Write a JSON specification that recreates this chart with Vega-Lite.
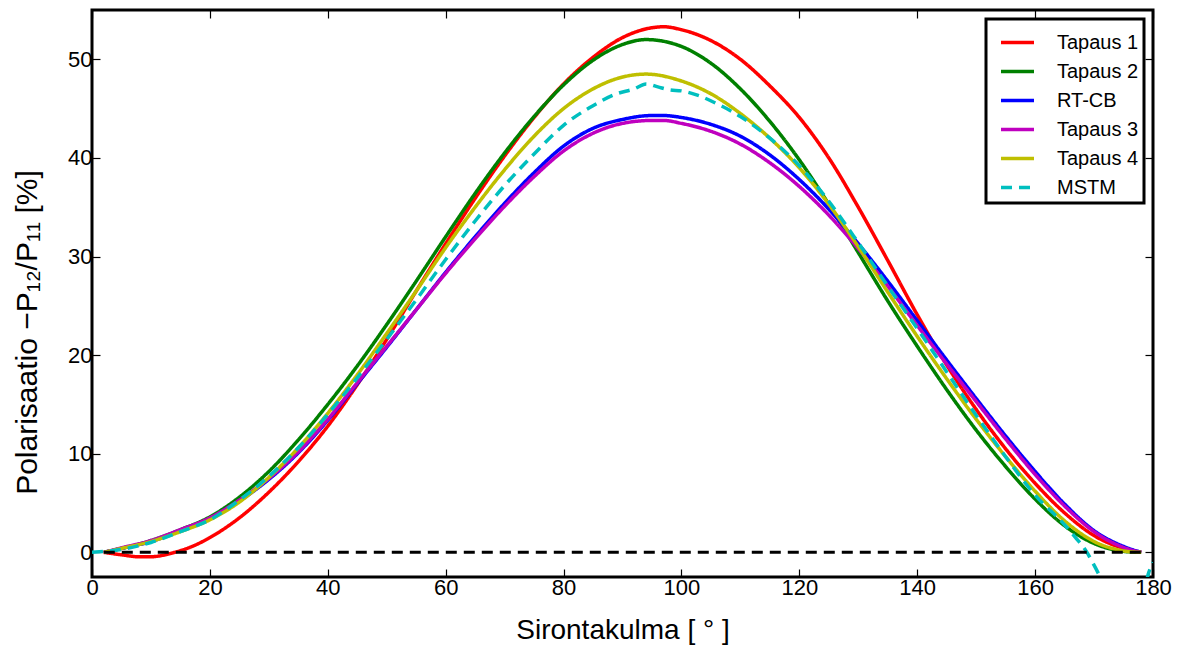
{
  "$schema": "https://vega.github.io/schema/vega-lite/v6.json",
  "width": 1061,
  "height": 567,
  "autosize": "none",
  "padding": {"left": 92, "top": 10, "right": 32, "bottom": 74},
  "background": "white",
  "config": {
    "font": "Liberation Sans",
    "view": {"stroke": "black", "strokeWidth": 3},
    "axis": {
      "grid": false,
      "domain": false,
      "tickSize": -8,
      "tickWidth": 1.2,
      "tickColor": "black",
      "labelFlush": false,
      "labelFont": "Liberation Sans",
      "labelFontSize": 22,
      "labelColor": "black",
      "titleFont": "Liberation Sans",
      "titleFontSize": 28,
      "titleFontWeight": "normal",
      "titleColor": "black"
    },
    "legend": {
      "strokeColor": "black",
      "strokeWidth": 3,
      "fillColor": "white",
      "padding": 5,
      "offset": 9,
      "labelFont": "Liberation Sans",
      "labelFontSize": 20,
      "labelColor": "black",
      "symbolType": "stroke",
      "symbolStrokeWidth": 3.5,
      "symbolSize": 1089,
      "symbolOffset": 8,
      "labelOffset": 21,
      "rowPadding": -2,
      "orient": "top-right"
    }
  },
  "datasets": {
    "curves": [
      {"s":"Tapaus 1","x":2,"y":0},{"s":"Tapaus 1","x":5,"y":-0.25},{"s":"Tapaus 1","x":8,"y":-0.45},{"s":"Tapaus 1","x":10,"y":-0.45},{"s":"Tapaus 1","x":12,"y":-0.3},{"s":"Tapaus 1","x":14,"y":0},{"s":"Tapaus 1","x":17,"y":0.6},{"s":"Tapaus 1","x":20,"y":1.5},{"s":"Tapaus 1","x":25,"y":3.5},{"s":"Tapaus 1","x":30,"y":6.1},{"s":"Tapaus 1","x":35,"y":9.2},{"s":"Tapaus 1","x":40,"y":12.8},{"s":"Tapaus 1","x":45,"y":17.0},{"s":"Tapaus 1","x":50,"y":21.6},{"s":"Tapaus 1","x":55,"y":26.5},{"s":"Tapaus 1","x":60,"y":31.3},{"s":"Tapaus 1","x":65,"y":35.9},{"s":"Tapaus 1","x":70,"y":40.2},{"s":"Tapaus 1","x":75,"y":44.1},{"s":"Tapaus 1","x":80,"y":47.5},{"s":"Tapaus 1","x":85,"y":50.2},{"s":"Tapaus 1","x":90,"y":52.2},{"s":"Tapaus 1","x":95,"y":53.2},{"s":"Tapaus 1","x":97,"y":53.3},{"s":"Tapaus 1","x":100,"y":53.0},{"s":"Tapaus 1","x":105,"y":51.9},{"s":"Tapaus 1","x":110,"y":50.0},{"s":"Tapaus 1","x":115,"y":47.3},{"s":"Tapaus 1","x":120,"y":44.1},{"s":"Tapaus 1","x":125,"y":40.0},{"s":"Tapaus 1","x":130,"y":35.0},{"s":"Tapaus 1","x":135,"y":29.6},{"s":"Tapaus 1","x":140,"y":24.1},{"s":"Tapaus 1","x":145,"y":19.0},{"s":"Tapaus 1","x":150,"y":14.5},{"s":"Tapaus 1","x":155,"y":10.5},{"s":"Tapaus 1","x":160,"y":7.0},{"s":"Tapaus 1","x":165,"y":4.0},{"s":"Tapaus 1","x":170,"y":1.7},{"s":"Tapaus 1","x":175,"y":0.4},{"s":"Tapaus 1","x":178,"y":0},

      {"s":"Tapaus 2","x":2,"y":0},{"s":"Tapaus 2","x":5,"y":0.4},{"s":"Tapaus 2","x":10,"y":1.2},{"s":"Tapaus 2","x":15,"y":2.3},{"s":"Tapaus 2","x":20,"y":3.6},{"s":"Tapaus 2","x":25,"y":5.6},{"s":"Tapaus 2","x":30,"y":8.2},{"s":"Tapaus 2","x":35,"y":11.4},{"s":"Tapaus 2","x":40,"y":15.0},{"s":"Tapaus 2","x":45,"y":18.9},{"s":"Tapaus 2","x":50,"y":23.1},{"s":"Tapaus 2","x":55,"y":27.5},{"s":"Tapaus 2","x":60,"y":32.0},{"s":"Tapaus 2","x":65,"y":36.4},{"s":"Tapaus 2","x":70,"y":40.5},{"s":"Tapaus 2","x":75,"y":44.2},{"s":"Tapaus 2","x":80,"y":47.4},{"s":"Tapaus 2","x":85,"y":49.9},{"s":"Tapaus 2","x":90,"y":51.5},{"s":"Tapaus 2","x":94,"y":52.0},{"s":"Tapaus 2","x":100,"y":51.3},{"s":"Tapaus 2","x":105,"y":49.6},{"s":"Tapaus 2","x":110,"y":47.0},{"s":"Tapaus 2","x":115,"y":43.7},{"s":"Tapaus 2","x":120,"y":39.8},{"s":"Tapaus 2","x":125,"y":35.3},{"s":"Tapaus 2","x":130,"y":30.4},{"s":"Tapaus 2","x":135,"y":25.5},{"s":"Tapaus 2","x":140,"y":20.9},{"s":"Tapaus 2","x":145,"y":16.5},{"s":"Tapaus 2","x":150,"y":12.4},{"s":"Tapaus 2","x":155,"y":8.7},{"s":"Tapaus 2","x":160,"y":5.4},{"s":"Tapaus 2","x":165,"y":2.7},{"s":"Tapaus 2","x":170,"y":0.9},{"s":"Tapaus 2","x":175,"y":0.1},{"s":"Tapaus 2","x":178,"y":0},

      {"s":"RT-CB","x":2,"y":0},{"s":"RT-CB","x":5,"y":0.4},{"s":"RT-CB","x":10,"y":1.1},{"s":"RT-CB","x":15,"y":2.2},{"s":"RT-CB","x":20,"y":3.4},{"s":"RT-CB","x":25,"y":5.2},{"s":"RT-CB","x":30,"y":7.4},{"s":"RT-CB","x":35,"y":10.1},{"s":"RT-CB","x":40,"y":13.4},{"s":"RT-CB","x":45,"y":17.1},{"s":"RT-CB","x":50,"y":20.8},{"s":"RT-CB","x":55,"y":24.6},{"s":"RT-CB","x":60,"y":28.4},{"s":"RT-CB","x":65,"y":32.0},{"s":"RT-CB","x":70,"y":35.4},{"s":"RT-CB","x":75,"y":38.5},{"s":"RT-CB","x":80,"y":41.2},{"s":"RT-CB","x":85,"y":43.0},{"s":"RT-CB","x":90,"y":43.9},{"s":"RT-CB","x":95,"y":44.3},{"s":"RT-CB","x":97,"y":44.3},{"s":"RT-CB","x":100,"y":44.1},{"s":"RT-CB","x":105,"y":43.4},{"s":"RT-CB","x":110,"y":42.2},{"s":"RT-CB","x":115,"y":40.3},{"s":"RT-CB","x":120,"y":37.8},{"s":"RT-CB","x":125,"y":34.8},{"s":"RT-CB","x":130,"y":31.3},{"s":"RT-CB","x":135,"y":27.5},{"s":"RT-CB","x":140,"y":23.5},{"s":"RT-CB","x":145,"y":19.5},{"s":"RT-CB","x":150,"y":15.6},{"s":"RT-CB","x":155,"y":11.8},{"s":"RT-CB","x":160,"y":8.2},{"s":"RT-CB","x":165,"y":4.9},{"s":"RT-CB","x":170,"y":2.2},{"s":"RT-CB","x":175,"y":0.6},{"s":"RT-CB","x":178,"y":0},

      {"s":"Tapaus 3","x":2,"y":0},{"s":"Tapaus 3","x":5,"y":0.45},{"s":"Tapaus 3","x":10,"y":1.2},{"s":"Tapaus 3","x":15,"y":2.3},{"s":"Tapaus 3","x":20,"y":3.5},{"s":"Tapaus 3","x":25,"y":5.3},{"s":"Tapaus 3","x":30,"y":7.5},{"s":"Tapaus 3","x":35,"y":10.2},{"s":"Tapaus 3","x":40,"y":13.5},{"s":"Tapaus 3","x":45,"y":17.2},{"s":"Tapaus 3","x":50,"y":20.9},{"s":"Tapaus 3","x":55,"y":24.6},{"s":"Tapaus 3","x":60,"y":28.3},{"s":"Tapaus 3","x":65,"y":31.8},{"s":"Tapaus 3","x":70,"y":35.1},{"s":"Tapaus 3","x":75,"y":38.1},{"s":"Tapaus 3","x":80,"y":40.7},{"s":"Tapaus 3","x":85,"y":42.5},{"s":"Tapaus 3","x":90,"y":43.5},{"s":"Tapaus 3","x":95,"y":43.8},{"s":"Tapaus 3","x":97,"y":43.8},{"s":"Tapaus 3","x":100,"y":43.5},{"s":"Tapaus 3","x":105,"y":42.7},{"s":"Tapaus 3","x":110,"y":41.4},{"s":"Tapaus 3","x":115,"y":39.5},{"s":"Tapaus 3","x":120,"y":37.1},{"s":"Tapaus 3","x":125,"y":34.2},{"s":"Tapaus 3","x":130,"y":30.8},{"s":"Tapaus 3","x":135,"y":27.0},{"s":"Tapaus 3","x":140,"y":23.0},{"s":"Tapaus 3","x":145,"y":19.1},{"s":"Tapaus 3","x":150,"y":15.3},{"s":"Tapaus 3","x":155,"y":11.5},{"s":"Tapaus 3","x":160,"y":7.9},{"s":"Tapaus 3","x":165,"y":4.7},{"s":"Tapaus 3","x":170,"y":2.1},{"s":"Tapaus 3","x":175,"y":0.5},{"s":"Tapaus 3","x":178,"y":0},

      {"s":"Tapaus 4","x":2,"y":0},{"s":"Tapaus 4","x":5,"y":0.4},{"s":"Tapaus 4","x":10,"y":1.1},{"s":"Tapaus 4","x":15,"y":2.1},{"s":"Tapaus 4","x":20,"y":3.3},{"s":"Tapaus 4","x":25,"y":5.1},{"s":"Tapaus 4","x":30,"y":7.6},{"s":"Tapaus 4","x":35,"y":10.6},{"s":"Tapaus 4","x":40,"y":14.1},{"s":"Tapaus 4","x":45,"y":18.0},{"s":"Tapaus 4","x":50,"y":22.2},{"s":"Tapaus 4","x":55,"y":26.5},{"s":"Tapaus 4","x":60,"y":30.9},{"s":"Tapaus 4","x":65,"y":35.0},{"s":"Tapaus 4","x":70,"y":38.8},{"s":"Tapaus 4","x":75,"y":42.2},{"s":"Tapaus 4","x":80,"y":45.0},{"s":"Tapaus 4","x":85,"y":47.0},{"s":"Tapaus 4","x":90,"y":48.2},{"s":"Tapaus 4","x":94,"y":48.5},{"s":"Tapaus 4","x":100,"y":47.8},{"s":"Tapaus 4","x":105,"y":46.5},{"s":"Tapaus 4","x":110,"y":44.5},{"s":"Tapaus 4","x":115,"y":42.0},{"s":"Tapaus 4","x":120,"y":39.0},{"s":"Tapaus 4","x":125,"y":35.3},{"s":"Tapaus 4","x":130,"y":31.0},{"s":"Tapaus 4","x":135,"y":26.4},{"s":"Tapaus 4","x":140,"y":21.9},{"s":"Tapaus 4","x":145,"y":17.6},{"s":"Tapaus 4","x":150,"y":13.5},{"s":"Tapaus 4","x":155,"y":9.7},{"s":"Tapaus 4","x":160,"y":6.2},{"s":"Tapaus 4","x":165,"y":3.2},{"s":"Tapaus 4","x":170,"y":1.1},{"s":"Tapaus 4","x":175,"y":0.15},{"s":"Tapaus 4","x":178,"y":0},

      {"s":"MSTM","x":0,"y":0},{"s":"MSTM","x":5,"y":0.3},{"s":"MSTM","x":10,"y":1.0},{"s":"MSTM","x":15,"y":2.1},{"s":"MSTM","x":20,"y":3.3},{"s":"MSTM","x":25,"y":5.3},{"s":"MSTM","x":30,"y":7.7},{"s":"MSTM","x":35,"y":10.6},{"s":"MSTM","x":40,"y":14.0},{"s":"MSTM","x":45,"y":17.7},{"s":"MSTM","x":50,"y":21.6},{"s":"MSTM","x":55,"y":25.6},{"s":"MSTM","x":60,"y":29.7},{"s":"MSTM","x":65,"y":33.6},{"s":"MSTM","x":70,"y":37.2},{"s":"MSTM","x":75,"y":40.4},{"s":"MSTM","x":80,"y":43.3},{"s":"MSTM","x":85,"y":45.3},{"s":"MSTM","x":89,"y":46.5},{"s":"MSTM","x":92,"y":47.0},{"s":"MSTM","x":94,"y":47.5},{"s":"MSTM","x":96,"y":47.2},{"s":"MSTM","x":98,"y":46.9},{"s":"MSTM","x":100,"y":46.8},{"s":"MSTM","x":103,"y":46.3},{"s":"MSTM","x":106,"y":45.5},{"s":"MSTM","x":110,"y":44.2},{"s":"MSTM","x":115,"y":42.0},{"s":"MSTM","x":120,"y":39.2},{"s":"MSTM","x":125,"y":35.6},{"s":"MSTM","x":130,"y":31.4},{"s":"MSTM","x":135,"y":27.0},{"s":"MSTM","x":140,"y":22.7},{"s":"MSTM","x":145,"y":18.3},{"s":"MSTM","x":150,"y":13.9},{"s":"MSTM","x":155,"y":9.7},{"s":"MSTM","x":160,"y":5.8},{"s":"MSTM","x":165,"y":2.8},{"s":"MSTM","x":167,"y":1.4},{"s":"MSTM","x":168.8,"y":0},{"s":"MSTM","x":170,"y":-1.3},{"s":"MSTM","x":172,"y":-3.6},{"s":"MSTM","x":175,"y":-6.5},{"s":"MSTM","x":178,"y":-5},{"s":"MSTM","x":179.3,"y":-2},{"s":"MSTM","x":180,"y":-1.0}
    ],
    "zero": [{"x": 2, "y": 0}, {"x": 178, "y": 0}]
  },
  "layer": [
    {
      "data": {"name": "curves"},
      "mark": {"type": "line", "strokeWidth": 3.5, "interpolate": "monotone", "clip": true},
      "encoding": {
        "x": {"field": "x", "type": "quantitative", "scale": {"domain": [0, 180], "nice": false},
              "axis": {"values": [0,20,40,60,80,100,120,140,160,180], "title": "Sirontakulma [ ° ]", "labelPadding": 8, "titlePadding": 18}},
        "y": {"field": "y", "type": "quantitative", "scale": {"domain": [-2.5, 55], "nice": false, "zero": false},
              "axis": {"values": [0,10,20,30,40,50], "title": "Polarisaatio −P₁₂/P₁₁ [%]", "labelPadding": 8,
                       "titleX": -65, "titleY": 322, "titleAlign": "center", "titleBaseline": "middle", "titleAngle": 270, "titleFontSize": 30}},
        "color": {"field": "s", "type": "nominal", "title": null,
                  "scale": {"domain": ["Tapaus 1","Tapaus 2","RT-CB","Tapaus 3","Tapaus 4","MSTM"],
                            "range": ["#ff0000","#008000","#0000ff","#bf00bf","#bfbf00","#00bfbf"]}},
        "strokeDash": {"field": "s", "type": "nominal", "title": null,
                  "scale": {"domain": ["Tapaus 1","Tapaus 2","RT-CB","Tapaus 3","Tapaus 4","MSTM"],
                            "range": [[1,0],[1,0],[1,0],[1,0],[1,0],[11,7]]}},
        "order": {"field": "x", "type": "quantitative"}
      }
    },
    {
      "data": {"name": "zero"},
      "mark": {"type": "line", "strokeWidth": 3, "color": "black", "strokeDash": [11, 7]},
      "encoding": {
        "x": {"field": "x", "type": "quantitative",
              "axis": {"orient": "top", "values": [0,20,40,60,80,100,120,140,160,180], "labels": false, "title": null}},
        "y": {"field": "y", "type": "quantitative",
              "axis": {"orient": "right", "values": [0,10,20,30,40,50], "labels": false, "title": null}}
      }
    }
  ],
  "resolve": {"axis": {"x": "independent", "y": "independent"}}
}
